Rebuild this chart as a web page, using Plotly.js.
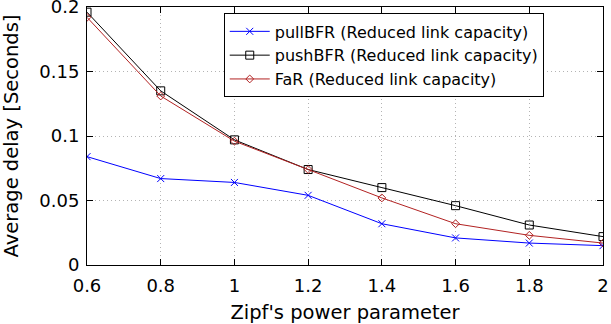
<!DOCTYPE html>
<html>
<head>
<meta charset="utf-8">
<script src="https://cdn.plot.ly/plotly-3.0.1.min.js"></script>
<style>
  body { margin: 0; background: #fff; }
  #chart { width: 611px; height: 324px; }
</style>
</head>
<body>
<div id="chart"></div>
<script>
var zipf = [0.6, 0.8, 1.0, 1.2, 1.4, 1.6, 1.8, 2.0];
var pullBFR = [0.084, 0.067, 0.064, 0.054, 0.032, 0.021, 0.017, 0.015];
var pushBFR = [0.196, 0.135, 0.097, 0.074, 0.060, 0.046, 0.031, 0.022];
var faR = [0.192, 0.131, 0.096, 0.074, 0.052, 0.032, 0.023, 0.017];

var yTicks = [0, 0.05, 0.1, 0.15, 0.2];
var yTickText = ["0", "0.05", "0.1", "0.15", "0.2"];
var xTicks = [0.6, 0.8, 1, 1.2, 1.4, 1.6, 1.8, 2];
var xTickText = ["0.6", "0.8", "1", "1.2", "1.4", "1.6", "1.8", "2"];

function makeTrace(y, name, color, symbol, size) {
    return {
        x: zipf,
        y: y,
        name: name,
        type: "scatter",
        mode: "lines+markers",
        line: {color: color, width: 1},
        marker: {symbol: symbol, size: size, color: color, line: {color: color, width: 1}}
    };
}

var data = [
    makeTrace(pullBFR, "pullBFR (Reduced link capacity)", "#0000ff", "x-thin-open", 7),
    makeTrace(pushBFR, "pushBFR (Reduced link capacity)", "#000000", "square-open", 8),
    makeTrace(faR, "FaR (Reduced link capacity)", "#b22222", "diamond-open", 6)
];

var tickFont = {family: "DejaVu Sans", size: 18, color: "#000"};
var titleFont = {family: "DejaVu Sans", size: 19.5, color: "#000"};

var layout = {
    width: 611,
    height: 324,
    margin: {l: 87, r: 8, t: 7, b: 59},
    paper_bgcolor: "#fff",
    plot_bgcolor: "#fff",
    font: {family: "DejaVu Sans", color: "#000"},
    showlegend: true,
    legend: {
        x: 0.265, y: 0.975, xanchor: "left", yanchor: "top",
        bgcolor: "#fff", bordercolor: "#000", borderwidth: 1,
        font: {family: "DejaVu Sans", size: 16, color: "#000"},
        itemwidth: 40,
        tracegroupgap: 0
    },
    xaxis: {
        range: [0.6, 2],
        tickvals: xTicks,
        ticktext: xTickText,
        tickfont: tickFont,
        ticklabelstandoff: 4,
        ticklabeloverflow: "allow",
        ticks: "inside", ticklen: 6, tickcolor: "#000",
        showline: true, linecolor: "#000", linewidth: 1, mirror: "ticks",
        showgrid: true, gridcolor: "#b4b4b4", griddash: "1px,3px", gridwidth: 1,
        zeroline: false,
        title: {text: "Zipf's power parameter", font: titleFont, standoff: 10}
    },
    yaxis: {
        range: [0, 0.2],
        tickvals: yTicks,
        ticktext: yTickText,
        tickfont: tickFont,
        ticklabelstandoff: 3,
        ticklabeloverflow: "allow",
        ticks: "inside", ticklen: 6, tickcolor: "#000",
        showline: true, linecolor: "#000", linewidth: 1, mirror: "ticks",
        showgrid: true, gridcolor: "#b4b4b4", griddash: "1px,3px", gridwidth: 1,
        zeroline: false,
        title: {text: "Average delay [Seconds]", font: titleFont, standoff: 16}
    }
};

Plotly.newPlot("chart", data, layout, {staticPlot: true});
</script>
</body>
</html>
